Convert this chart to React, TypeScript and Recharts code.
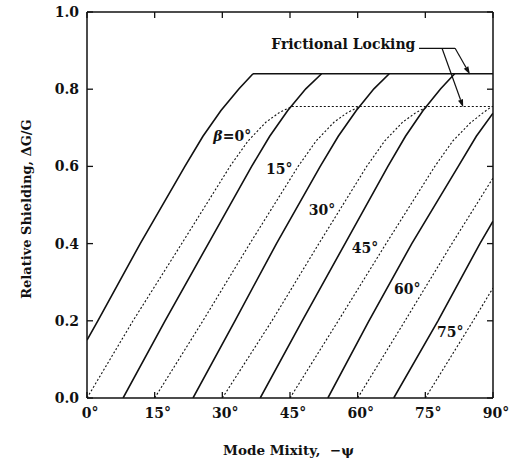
import React from 'react'
import { LineChart, Line, XAxis, YAxis, ReferenceLine, ReferenceDot } from 'recharts'

const FONT = '"DejaVu Serif", serif'
const INK = '#111'

const xTicks = [0, 15, 30, 45, 60, 75, 90]
const yTicks = [0, 0.2, 0.4, 0.6, 0.8, 1.0]
const betaNames = ['0', '15', '30', '45', '60', '75']

// solid curves, one per beta: [-psi (deg), dG/G]
const solid0 = [[0, 0.15], [2.4, 0.2], [11.8, 0.4], [21.7, 0.6], [25.7, 0.678], [29.7, 0.745], [33.7, 0.801], [36.8, 0.84]]
const solid15 = [[8, 0], [17.3, 0.2], [26.9, 0.4], [36.5, 0.6], [40.5, 0.678], [44.5, 0.745], [48.5, 0.801], [52, 0.84]]
const solid30 = [[23.5, 0], [32.8, 0.2], [42, 0.4], [51.7, 0.6], [55.7, 0.678], [59.7, 0.745], [63.6, 0.801], [67, 0.84]]
const solid45 = [[38.4, 0], [47.7, 0.2], [57.2, 0.4], [66.7, 0.6], [70.6, 0.678], [74.5, 0.745], [78.4, 0.801], [81.5, 0.84]]
const solid60 = [[53.4, 0], [62.5, 0.2], [72, 0.4], [82.3, 0.6], [86.3, 0.678], [90, 0.738]]
const solid75 = [[68, 0], [77.8, 0.2], [87.1, 0.4], [90, 0.458]]

// dotted curves
const dot0 = [[0, 0], [10.2, 0.2], [21, 0.4], [31.7, 0.6], [35.7, 0.666], [39.7, 0.715], [42.7, 0.74], [45.4, 0.755]]
const dot15 = [[15, 0], [25.7, 0.2], [36.1, 0.4], [46.8, 0.6], [50.8, 0.666], [54.8, 0.715], [57.8, 0.74], [60.5, 0.755]]
const dot30 = [[30, 0], [41, 0.2], [51.4, 0.4], [62, 0.6], [66, 0.666], [70, 0.715], [73, 0.74], [75.6, 0.755]]
const dot45 = [[45, 0], [55.7, 0.2], [66.3, 0.4], [77.1, 0.6], [81.1, 0.666], [85, 0.713], [87.7, 0.738], [89.7, 0.755]]
const dot60 = [[60, 0], [70.5, 0.2], [80.9, 0.4], [90, 0.57]]
const dot75 = [[75, 0], [85.6, 0.2], [90, 0.285]]

// frictional locking plateaus
const lockSolid = [[36.8, 0.84], [90, 0.84]]
const lockDotted = [[45.4, 0.755], [90, 0.755]]

const pts = (a: number[][]) => a.map(([x, y]) => ({ x, y }))

const solidCurves = [solid0, solid15, solid30, solid45, solid60, solid75, lockSolid].map(pts)
const dottedCurves = [dot0, dot15, dot30, dot45, dot60, dot75, lockDotted].map(pts)

// label anchors (data coords)
const betaLabelPos = [[32.2, 0.68], [42.6, 0.593], [52.1, 0.486], [61.6, 0.388], [71, 0.282], [80.5, 0.171]]

const textStyle = { fontFamily: FONT, fontSize: 14, fontWeight: 700, fill: INK }

const BottomTick = (p: any) => (
  <g>
    <line x1={p.x} y1={p.y} x2={p.x} y2={p.y - 6} stroke={INK} strokeWidth={1.3} />
    <text x={p.x + 3} y={p.y + 20} textAnchor="middle" {...textStyle}>{p.payload.value}°</text>
  </g>
)
const TopTick = (p: any) => (
  <line x1={p.x} y1={p.y} x2={p.x} y2={p.y + 6} stroke={INK} strokeWidth={1.3} />
)
const LeftTick = (p: any) => (
  <g>
    <line x1={p.x} y1={p.y} x2={p.x + 6} y2={p.y} stroke={INK} strokeWidth={1.3} />
    <text x={p.x - 8} y={p.y + 5} textAnchor="end" {...textStyle}>{Number(p.payload.value).toFixed(1)}</text>
  </g>
)
const RightTick = (p: any) => (
  <line x1={p.x} y1={p.y} x2={p.x - 6} y2={p.y} stroke={INK} strokeWidth={1.3} />
)

const Arrow = (p: any) => {
  const { x1, y1, x2, y2 } = p
  const a = Math.atan2(y2 - y1, x2 - x1)
  const L = 8, W = 2.6
  const bx = x2 - L * Math.cos(a), by = y2 - L * Math.sin(a)
  const nx = -Math.sin(a) * W, ny = Math.cos(a) * W
  return (
    <g>
      <line x1={x1} y1={y1} x2={bx} y2={by} stroke={INK} strokeWidth={1.2} />
      <polygon points={`${x2},${y2} ${bx + nx},${by + ny} ${bx - nx},${by - ny}`} fill={INK} />
    </g>
  )
}
const Plain = (p: any) => <line x1={p.x1} y1={p.y1} x2={p.x2} y2={p.y2} stroke={INK} strokeWidth={1.2} />

const axisLine = { stroke: INK, strokeWidth: 1.5 }

export default function App() {
  return (
    <div style={{ position: 'absolute', left: 0, top: 0, width: 513, height: 462, background: '#fff' }}>
      <LineChart width={513} height={462} margin={{ top: 11, right: 19, bottom: 0, left: 86 }}>
        <XAxis type="number" dataKey="x" domain={[0, 90]} ticks={xTicks} height={64} tickSize={0} tickMargin={0}
          tick={BottomTick} tickLine={false} axisLine={axisLine} allowDataOverflow />
        <XAxis xAxisId="top" orientation="top" type="number" dataKey="x" domain={[0, 90]} ticks={xTicks} height={1}
          tickSize={0} tickMargin={0} tick={TopTick} tickLine={false} axisLine={axisLine} allowDataOverflow />
        <YAxis type="number" domain={[0, 1]} ticks={yTicks} width={1} tickSize={0} tickMargin={0}
          tick={LeftTick} tickLine={false} axisLine={axisLine} allowDataOverflow />
        <YAxis yAxisId="right" orientation="right" type="number" domain={[0, 1]} ticks={yTicks} width={1}
          tickSize={0} tickMargin={0} tick={RightTick} tickLine={false} axisLine={axisLine} allowDataOverflow />

        {solidCurves.map((d, i) => (
          <Line key={'s' + i} data={d} dataKey="y" type="linear" stroke={INK} strokeWidth={1.6}
            dot={false} activeDot={false} isAnimationActive={false} />
        ))}
        {dottedCurves.map((d, i) => (
          <Line key={'d' + i} data={d} dataKey="y" type="linear" stroke={INK} strokeWidth={1.1}
            strokeDasharray="2 2" dot={false} activeDot={false} isAnimationActive={false} />
        ))}

        {betaLabelPos.map(([x, y], i) => (
          <ReferenceDot key={'b' + i} x={x} y={y} r={0} shape={(p: any) => (
            <text x={p.cx} y={p.cy + 5} textAnchor="middle" {...textStyle}>
              {i === 0 ? <tspan fontStyle="italic">β</tspan> : null}
              {i === 0 ? '=' : ''}{betaNames[i]}°
            </text>
          )} />
        ))}

        <ReferenceDot x={72.8} y={0.916} r={0} shape={(p: any) => (
          <text x={p.cx} y={p.cy + 5} textAnchor="end" {...textStyle}>Frictional Locking</text>
        )} />
        <ReferenceLine segment={[{ x: 73.6, y: 0.906 }, { x: 81.6, y: 0.906 }]} shape={Plain} />
        <ReferenceLine segment={[{ x: 81.6, y: 0.906 }, { x: 84.9, y: 0.838 }]} shape={Arrow} />
        <ReferenceLine segment={[{ x: 78.7, y: 0.906 }, { x: 83.4, y: 0.753 }]} shape={Arrow} />
      </LineChart>

      <div style={{ position: 'absolute', left: 27 - 120, top: 209 - 10, width: 240, height: 20, lineHeight: '20px',
        textAlign: 'center', transform: 'rotate(-90deg)', fontFamily: FONT, fontSize: 13, fontWeight: 700,
        color: INK, whiteSpace: 'nowrap' }}>
        Relative Shielding, ΔG/G
      </div>
      <div style={{ position: 'absolute', left: 223, top: 440, height: 20, lineHeight: '20px',
        fontFamily: FONT, fontSize: 13.5, fontWeight: 700, color: INK, whiteSpace: 'pre' }}>
        {'Mode Mixity,  −ψ'}
      </div>
    </div>
  )
}
